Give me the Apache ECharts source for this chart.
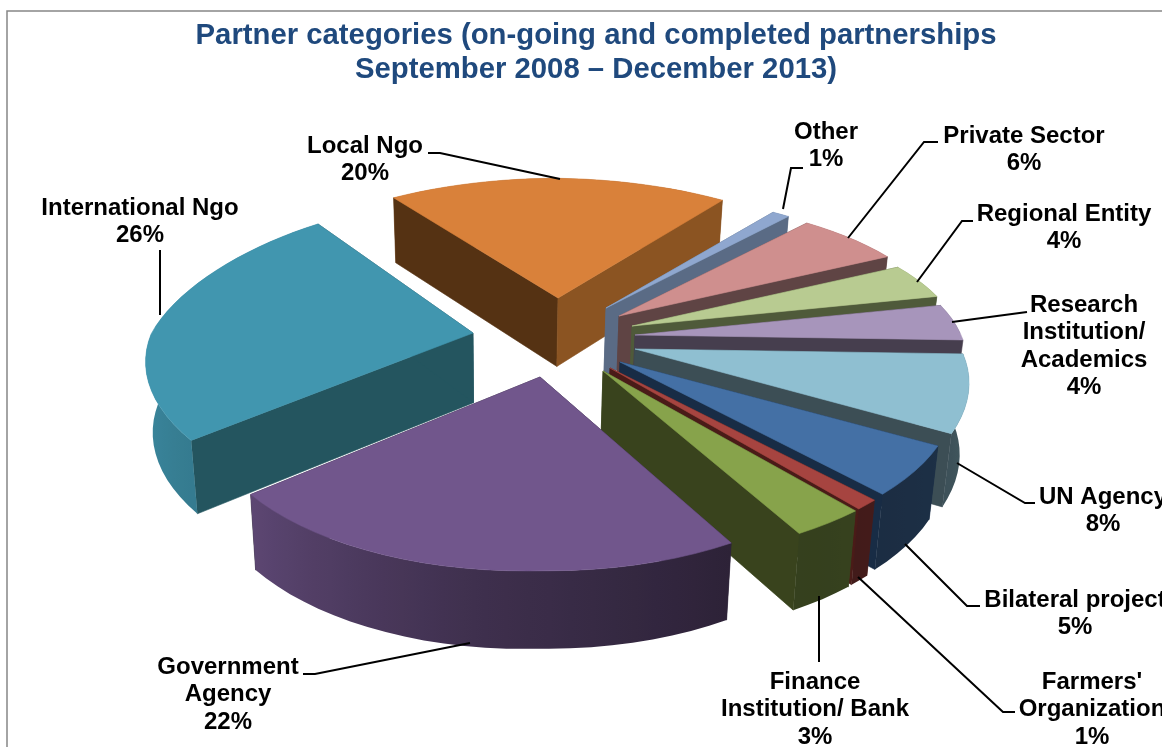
<!DOCTYPE html>
<html>
<head>
<meta charset="utf-8">
<style>html,body{margin:0;padding:0;background:#fff}#c{width:1162px;height:747px}</style>
<script src="https://cdn.jsdelivr.net/npm/echarts@6/dist/echarts.min.js"></script>
</head>
<body>
<div id="c"></div>
<script>
// ---- data (clockwise from 3 o'clock) ----
const categories = ['UN Agency','Bilateral project',"Farmers'\nOrganization",'Finance\nInstitution/ Bank','Government\nAgency','International Ngo','Local Ngo','Other','Private Sector','Regional Entity','Research\nInstitution/\nAcademics'];
const values = [8,5,1,3,22,26,20,1,6,4,4];
const titleLines = ['Partner categories (on-going and completed partnerships','September 2008 \u2013 December 2013)'];

// ---- styling ----
const topColors    = ['#8FBFD1','#4470A5','#A64440','#87A34B','#71568C','#4196AF','#D9813A','#8FA7CF','#CF8F8E','#B8CB91','#A795BB'];
const radialColors = ['#3C4E55','#182C45','#4A1B18','#39431D','#2C2238','#24555F','#553213','#5A6B85','#5F4444','#4F5A3A','#463E4E'];
const localRightFace = '#8B5422';

// ---- geometry of the perspective disc ----
const A = 328, B = 146, PX = 0.19, PY = 0.25, TILT = 0.015;
const SHIFT = [[635,349],[620,362],[610,368],[603,371],[540,377],[473,333],[558,298],[606,308],[619,316],[632,326],[635,335]];
const paintOrder = [6,7,8,9,10,5,0,1,2,3,4];
// per-slice fine adjustment of the disc projection (x/y stretch toward rear / front)
const NONE = {};
const sliceFit = [NONE,{xf:1.01,yf:.98},{xf:1.02,yf:.98},{xf:1.04,yf:.97},{xf:1.01,yf:.995,tl:.025},
  {xs:.98,xr:.934,yr:1.136,yf:.953},{xr:.98,yr:1.025},NONE,{xr:1.04,yr:1.02},{xr:1.02},{xr:1.03}];

const labelLayout = [
  {x:1103,y:497,line:[[957,463],[1025,503],[1035,503]]},
  {x:1075,y:600,line:[[905,544],[967,606],[980,606]]},
  {x:1092,y:682,line:[[858,577],[1003,712],[1015,712]]},
  {x:815, y:682,line:[[819,596],[819,662]]},
  {x:228, y:667,line:[[470,643],[315,674],[303,674]]},
  {x:140, y:208,line:[[160,250],[160,315]]},
  {x:365, y:146,line:[[428,153],[440,153],[560,179]]},
  {x:826, y:132,line:[[783,209],[791,168],[803,168]]},
  {x:1024,y:136,line:[[848,238],[924,142],[938,142]]},
  {x:1064,y:214,line:[[917,282],[962,221],[973,221]]},
  {x:1084,y:305,line:[[952,322],[1027,312]]}
];

const total = values.reduce((s,v)=>s+v,0);
const angles = []; // [start,end] in degrees clockwise from 3 o'clock
values.reduce((acc,v,i)=>{const e=acc+v/total*360; angles[i]=[acc,e]; return e;},0);

function disc(i, deg){
  const t=deg*Math.PI/180, X=Math.cos(t), Y=Math.sin(t), f=sliceFit[i];
  const up=Math.max(-Y,0), dn=Math.max(Y,0);
  const kx=(f.xs||1)*(1+((f.xr||1)-1)*up)*(1+((f.xf||1)-1)*dn);
  const ky=(1+((f.yr||1)-1)*up)*(1+((f.yf||1)-1)*dn);
  const sx=A*X/(1-PX*Y)*kx;
  const sy=B*Y/(1-PY*Y)*ky+(sx>0?sx*TILT:-sx*(f.tl||0));
  return [SHIFT[i][0]+sx, SHIFT[i][1]+sy];
}
function drop(p){
  const h=58+0.035*p[1];
  return [500+(p[0]-500)*0.98, p[1]+h];
}
function shadeFactor(deg){
  const stops=[[-180,.95],[-90,.6],[0,.55],[30,.42],[60,.39],[100,.56],[140,.82],[180,.95],[270,.6]];
  for(let k=1;k<stops.length;k++){
    if(deg<=stops[k][0]){
      const a=stops[k-1],b=stops[k];
      return a[1]+(b[1]-a[1])*(deg-a[0])/(b[0]-a[0]);
    }
  }
  return .6;
}
function shade(hex,f){
  const n=parseInt(hex.slice(1),16);
  return 'rgb('+[(n>>16)&255,(n>>8)&255,n&255].map(c=>Math.round(c*f)).join(',')+')';
}
function poly(points,fill){
  return {type:'polygon',shape:{points:points},style:{fill:fill,stroke:fill,lineWidth:0.6}};
}
function rimPolygon(i,run){
  if(run.length<2) return null;
  const pts=run.map(r=>r[1]);
  const xs=pts.map(p=>p[0]);
  const x0=Math.min.apply(null,xs), x1=Math.max.apply(null,xs);
  const stops=run.map(r=>({offset:x1>x0?(r[1][0]-x0)/(x1-x0):0,color:shade(topColors[i],shadeFactor(r[0]))}))
    .sort((a,b)=>a.offset-b.offset);
  const fill=new echarts.graphic.LinearGradient(x0,0,x1,0,stops,true);
  const outline=pts.concat(pts.slice().reverse().map(drop));
  return {type:'polygon',shape:{points:outline},style:{fill:fill}};
}
function renderSlice(params,api){
  const i=api.value(0), a0=angles[i][0], a1=angles[i][1];
  const steps=Math.max(2,Math.round((a1-a0)/3));
  const arc=[];
  for(let k=0;k<=steps;k++){const d=a0+(a1-a0)*k/steps; arc.push([d,disc(i,d)]);}
  const apex=SHIFT[i], apexB=drop(apex), kids=[];
  const isFront=r=>Math.sin(r[0]*Math.PI/180)>=-1e-9;
  const rear=rimPolygon(i,arc.filter(r=>!isFront(r)));
  const front=rimPolygon(i,arc.filter(isFront));
  if(rear) kids.push(rear);
  const s=arc[0][1], e=arc[steps][1];
  kids.push(poly([apex,s,drop(s),apexB],radialColors[i]));
  kids.push(poly([apex,e,drop(e),apexB],i===6?localRightFace:radialColors[i]));
  if(front) kids.push(front);
  kids.push(poly([apex].concat(arc.map(r=>r[1])),topColors[i]));
  return {type:'group',children:kids};
}
function renderLabel(params,api){
  const i=api.value(0), L=labelLayout[i];
  const lines=(categories[i]+'\n'+values[i]+'%').split('\n');
  const kids=[{type:'polyline',shape:{points:L.line},style:{fill:null,stroke:'#000',lineWidth:2}}];
  lines.forEach((t,n)=>kids.push({type:'text',style:{text:t,x:L.x,y:L.y+n*27.6,align:'center',verticalAlign:'middle',fill:'#000',font:'bold 24px "Liberation Sans", Arial, sans-serif'}}));
  return {type:'group',children:kids};
}

const chart=echarts.init(document.getElementById('c'),null,{renderer:'canvas'});
chart.setOption({
  animation:false,
  backgroundColor:'#fff',
  title:{
    text:titleLines.join('\n'),
    left:591,top:14,textAlign:'center',
    textStyle:{fontFamily:'"Liberation Sans", Arial, sans-serif',fontWeight:'bold',fontSize:29.3,lineHeight:34,color:'#1F497D'}
  },
  graphic:[{type:'polyline',silent:true,shape:{points:[[7,747],[7,11],[1162,11]]},style:{fill:null,stroke:'#868686',lineWidth:1.5}}],
  series:[
    {type:'custom',coordinateSystem:'none',silent:true,renderItem:renderSlice,data:paintOrder.map(i=>[i,values[i]]),z:2},
    {type:'custom',coordinateSystem:'none',silent:true,renderItem:renderLabel,data:values.map((v,i)=>[i,v]),z:3}
  ]
});
</script>
</body>
</html>
